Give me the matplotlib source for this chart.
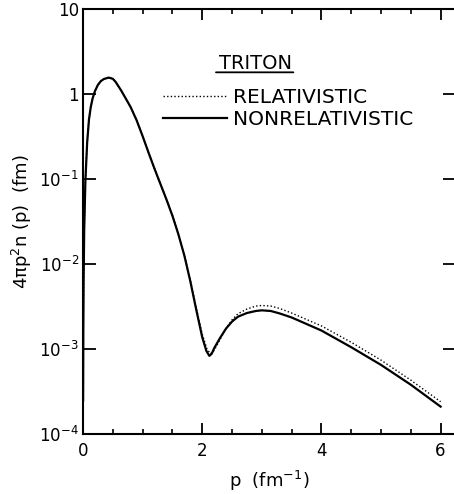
# triton_momentum.py
# momentum distribution 4 pi p^2 n(p) for the triton
# relativistic vs nonrelativistic, log scale

import numpy as np
import matplotlib
matplotlib.use('Agg')
import matplotlib.pyplot as plt
from matplotlib.ticker import FixedLocator, FixedFormatter, MultipleLocator, NullLocator

# nonrelativistic curve (solid)
p_nr = [0.002, 0.005, 0.01, 0.02, 0.04, 0.07, 0.1, 0.13, 0.16, 0.2, 0.25,
        0.3, 0.35, 0.43, 0.5, 0.55, 0.64, 0.7, 0.8, 0.9, 1.0, 1.1, 1.2,
        1.3, 1.4, 1.5, 1.6, 1.7, 1.8, 1.9, 2.0, 2.07, 2.12, 2.16, 2.2,
        2.3, 2.4, 2.5, 2.6, 2.75, 2.9, 3.0, 3.15, 3.3, 3.5, 4.0, 4.5,
        5.0, 5.5, 6.0]
n_nr = [2.5e-4, 1.6e-3, 6.2e-3, 2.5e-2, 9.5e-2, 0.27, 0.5, 0.7, 0.88, 1.08,
        1.28, 1.42, 1.5, 1.56, 1.51, 1.38, 1.1, 0.93, 0.7, 0.49, 0.32,
        0.204, 0.132, 0.087, 0.0575, 0.037, 0.0224, 0.0126, 6.3e-3,
        2.9e-3, 1.38e-3, 9.5e-4, 8.3e-4, 8.8e-4, 1.02e-3, 1.35e-3,
        1.74e-3, 2.1e-3, 2.4e-3, 2.65e-3, 2.8e-3, 2.85e-3, 2.8e-3,
        2.62e-3, 2.35e-3, 1.65e-3, 1.05e-3, 6.5e-4, 3.8e-4, 2.1e-4]

# relativistic curve (dotted)
p_rel = [0.002, 0.005, 0.01, 0.02, 0.04, 0.07, 0.1, 0.13, 0.16, 0.2, 0.25,
         0.3, 0.35, 0.43, 0.5, 0.55, 0.64, 0.7, 0.8, 0.9, 1.0, 1.1, 1.2,
         1.3, 1.4, 1.5, 1.6, 1.7, 1.8, 1.9, 2.0, 2.08, 2.14, 2.2, 2.3,
         2.4, 2.5, 2.6, 2.75, 2.9, 3.0, 3.15, 3.3, 3.5, 4.0, 4.5, 5.0,
         5.5, 6.0]
n_rel = [2.5e-4, 1.6e-3, 6.2e-3, 2.5e-2, 9.5e-2, 0.27, 0.5, 0.7, 0.88, 1.08,
         1.28, 1.42, 1.5, 1.56, 1.51, 1.38, 1.1, 0.93, 0.7, 0.49, 0.32,
         0.204, 0.132, 0.087, 0.058, 0.0375, 0.0228, 0.0129, 6.5e-3,
         3.05e-3, 1.5e-3, 1.0e-3, 8.8e-4, 9.6e-4, 1.3e-3, 1.75e-3,
         2.2e-3, 2.6e-3, 2.95e-3, 3.2e-3, 3.25e-3, 3.2e-3, 3.0e-3,
         2.65e-3, 1.87e-3, 1.2e-3, 7.4e-4, 4.3e-4, 2.4e-4]

y_ticks  = [1e-4, 1e-3, 1e-2, 1e-1, 1, 10]
y_labels = ['$10^{-4}$', '$10^{-3}$', '$10^{-2}$', '$10^{-1}$', '1', '10']
x_ticks  = [0, 2, 4, 6]

FONT = 'DejaVu Sans'
plt.rcParams['font.family'] = FONT
plt.rcParams['mathtext.fontset'] = 'dejavusans'

fig = plt.figure(figsize=(4.54, 4.94), dpi=100)
ax = fig.add_axes([83 / 454, 60 / 494, 372 / 454, 425 / 494])

ax.plot(p_rel, n_rel, color='black', lw=1.0, linestyle=(0, (1, 1.6)),
        label='RELATIVISTIC')
ax.plot(p_nr, n_nr, color='black', lw=1.6, label='NONRELATIVISTIC')

ax.set_yscale('log')
ax.set_xlim(0, 372 / 59.6)
ax.set_ylim(1e-4, 10)

# spines: no right one, the frame runs off the page
ax.spines['right'].set_visible(False)
for side in ['left', 'bottom', 'top']:
    ax.spines[side].set_linewidth(1.5)

ax.xaxis.set_major_locator(FixedLocator(x_ticks))
ax.xaxis.set_minor_locator(MultipleLocator(0.5))
ax.yaxis.set_major_locator(FixedLocator(y_ticks))
ax.yaxis.set_major_formatter(FixedFormatter(y_labels))
ax.yaxis.set_minor_locator(NullLocator())

ax.tick_params(axis='x', which='major', direction='in', top=True,
               length=8, width=1.3, labelsize=12, pad=6)
ax.tick_params(axis='x', which='minor', direction='in', top=True,
               length=3.8, width=1.2)
# same length both sides (right side ticks sit on the page edge)
ax.tick_params(axis='y', which='major', direction='in', left=True,
               right=True, length=9, width=1.3, labelsize=12, pad=3)

ax.set_xlabel('p  (fm$^{-1}$)', fontsize=13, labelpad=6)
ax.set_ylabel('4πp$^{2}$n (p)  (fm)', fontsize=13, labelpad=4)

# legend block with underlined title
ax.text(0.464, 0.872, 'TRITON', transform=ax.transAxes, ha='center',
        va='center', fontsize=14)
ax.annotate('', xy=(0.350, 0.851), xytext=(0.573, 0.851),
            xycoords='axes fraction',
            arrowprops=dict(arrowstyle='-', lw=1.3, color='black'))
ax.legend(loc='upper left', bbox_to_anchor=(0.215, 0.815), frameon=False,
          fontsize=14.5, handlelength=3.2, handletextpad=0.3,
          labelspacing=0.15, borderpad=0, borderaxespad=0)

plt.savefig('out.png', dpi=100)
plt.close()
